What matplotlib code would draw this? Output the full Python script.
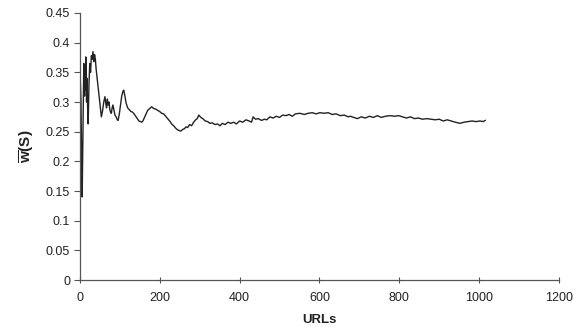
import matplotlib
matplotlib.use('Agg')
from matplotlib import pyplot as plt

plt.rcParams['font.family'] = ['Liberation Sans', 'DejaVu Sans']
plt.rcParams['mathtext.fontset'] = 'custom'
plt.rcParams['mathtext.rm'] = 'Liberation Sans'
plt.rcParams['mathtext.bf'] = 'Liberation Sans:bold'

# values
urls = [1, 3, 5, 6, 8, 10, 11, 12, 13, 14, 15, 16, 17, 18, 19, 20, 21, 22, 23,
        25, 27, 29, 31, 33, 35, 37, 39, 41, 44, 47, 50, 54, 57, 60, 63, 65, 67,
        69, 71, 73, 75, 77, 79, 81, 83, 85, 88, 91, 94, 96, 99, 102, 105, 108,
        110, 113, 116, 120, 124, 128, 132, 136, 140, 144, 148, 152, 155, 158,
        162, 166, 170, 175, 180, 185, 190, 195, 200, 205, 210, 215, 220, 225,
        230, 235, 240, 245, 249, 253, 258, 262, 266, 270, 275, 280, 285, 290,
        294, 298, 303, 308, 314, 320, 326, 332, 338, 345, 351, 357, 364, 371,
        378, 385, 392, 400, 408, 416, 424, 430, 434, 440, 447, 455, 462, 468,
        476, 484, 492, 500, 508, 516, 524, 532, 540, 551, 562, 572, 582, 592,
        601, 612, 622, 632, 642, 652, 662, 672, 677, 686, 695, 705, 715, 725,
        735, 745, 755, 765, 777, 788, 798, 808, 818, 828, 838, 848, 858, 869,
        880, 890, 900, 910, 920, 930, 940, 952, 962, 972, 982, 992, 1002, 1010,
        1015]
wbar = [0.345, 0.30, 0.18, 0.14, 0.25, 0.365, 0.33, 0.31, 0.355, 0.32, 0.376,
        0.34, 0.30, 0.34, 0.31, 0.28, 0.263, 0.30, 0.33, 0.365, 0.35, 0.378,
        0.372, 0.385, 0.368, 0.380, 0.372, 0.355, 0.337, 0.32, 0.30, 0.275,
        0.285, 0.30, 0.309, 0.298, 0.29, 0.305, 0.295, 0.30, 0.288, 0.283,
        0.281, 0.29, 0.295, 0.288, 0.278, 0.275, 0.27, 0.269, 0.28, 0.295,
        0.31, 0.318, 0.32, 0.31, 0.298, 0.29, 0.287, 0.284, 0.283, 0.28, 0.276,
        0.272, 0.268, 0.267, 0.266, 0.268, 0.274, 0.28, 0.286, 0.289, 0.292,
        0.289, 0.288, 0.286, 0.284, 0.281, 0.28, 0.276, 0.272, 0.268, 0.263,
        0.26, 0.256, 0.253, 0.252, 0.251, 0.254, 0.255, 0.258, 0.257, 0.262,
        0.26, 0.266, 0.27, 0.272, 0.278, 0.274, 0.272, 0.268, 0.267, 0.264,
        0.265, 0.262, 0.263, 0.260, 0.264, 0.262, 0.266, 0.264, 0.266, 0.263,
        0.268, 0.266, 0.270, 0.268, 0.266, 0.275, 0.271, 0.272, 0.269, 0.271,
        0.270, 0.275, 0.273, 0.276, 0.274, 0.278, 0.277, 0.279, 0.276, 0.28,
        0.281, 0.279, 0.281, 0.282, 0.28, 0.282, 0.281, 0.282, 0.279, 0.28,
        0.277, 0.278, 0.275, 0.276, 0.274, 0.272, 0.275, 0.273, 0.276, 0.274,
        0.277, 0.274, 0.276, 0.277, 0.276, 0.277, 0.275, 0.273, 0.275, 0.272,
        0.273, 0.271, 0.272, 0.271, 0.27, 0.271, 0.268, 0.27, 0.268, 0.266,
        0.264, 0.266, 0.267, 0.268, 0.267, 0.268, 0.267, 0.269]

fig = plt.figure(figsize=(5.74, 3.33), dpi=100)
ax = fig.add_axes([0.139, 0.159, 0.835, 0.802])
ax.plot(urls, wbar, color='#222222', lw=1.0)

ax.set_xlim(0, 1200)
ax.set_ylim(0, 0.45)
ax.set_xticks(range(0, 1201, 200))
ax.set_yticks([0, 0.05, 0.1, 0.15, 0.2, 0.25, 0.3, 0.35, 0.4, 0.45])
ax.set_yticklabels(['0', '0.05', '0.1', '0.15', '0.2', '0.25', '0.3', '0.35', '0.4', '0.45'])

for s in ['top', 'right']:
    ax.spines[s].set_visible(False)
for s in ['left', 'bottom']:
    ax.spines[s].set_color('#555555')
    ax.spines[s].set_linewidth(0.9)
ax.tick_params(axis='y', direction='out', length=4, width=0.8, color='#555555',
               labelsize=9, labelcolor='#222222', pad=3)
ax.tick_params(axis='x', direction='inout', length=5, width=0.8, color='#555555',
               labelsize=9, labelcolor='#222222', pad=6)

ax.set_xlabel('URLs', fontsize=9.5, fontweight='bold', color='#222222', labelpad=7)
ax.set_ylabel(r'$\mathbf{\overline{w}(S)}$', fontsize=11, color='#222222', labelpad=7)

plt.savefig('out.png', dpi=100)
